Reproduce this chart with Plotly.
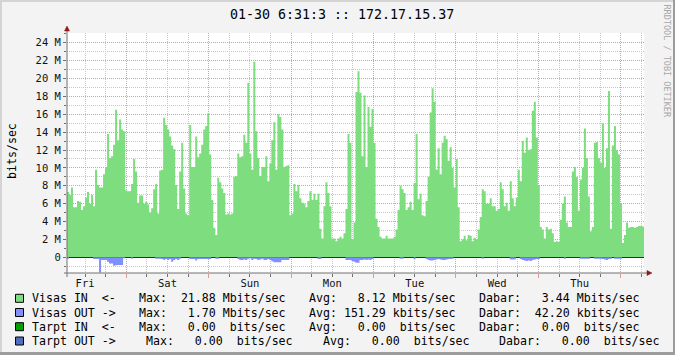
import plotly.graph_objects as go

# ---------------- data (Mbit/s, one value per ~35 min over one week) ----------------
IN_MBPS = [
    7.3, 7.0, 7.8, 5.6, 5.6, 6.3, 6.2, 5.3, 5.7, 6.7,
    7.3, 6.0, 7.0, 5.7, 9.8, 8.1, 7.8, 7.8, 9.3, 10.1,
    13.8, 11.1, 11.3, 12.6, 16.5, 13.1, 15.4, 14.3, 14.1, 7.5,
    7.4, 7.4, 8.2, 11.0, 9.6, 6.1, 6.9, 6.9, 6.0, 6.2,
    5.9, 5.0, 5.5, 7.6, 8.2, 4.9, 9.7, 9.8, 15.6, 14.8,
    14.3, 13.5, 12.5, 12.1, 8.1, 5.4, 9.6, 12.8, 7.7, 4.9,
    4.7, 14.8, 10.1, 10.1, 13.5, 11.2, 11.6, 12.6, 14.3, 14.7,
    16.1, 11.5, 6.4,
    3.3, 2.5, 8.9, 8.4, 7.7, 7.2, 4.8, 4.9, 4.8, 4.9,
    9.0, 9.1, 11.6, 11.2, 11.3, 13.7, 12.8, 19.5, 11.6, 9.8,
    21.88, 14.1, 11.1, 9.1, 10.1, 10.1, 11.3, 8.5, 10.5, 13.1,
    15.1, 9.8, 16.0, 15.7, 14.3, 10.1, 10.2, 10.3, 4.7, 4.9,
    8.2, 7.4, 8.1, 6.6, 6.1, 6.0, 5.6, 6.3, 7.4, 6.4,
    7.1, 6.4, 7.1, 3.2, 2.1, 5.7, 8.4, 7.2, 5.7, 2.1,
    2.1, 1.8, 2.1, 2.3, 2.1, 2.7, 5.4, 13.8, 12.8, 2.0,
    3.9, 18.5, 20.8,
    18.4, 11.3, 18.1, 10.1, 16.8, 14.6, 16.6, 12.8, 4.3, 3.4,
    2.3, 2.1, 2.1, 2.4, 2.1, 2.1, 2.1, 2.3, 3.1, 5.3,
    8.0, 7.6, 7.2, 5.3, 5.6, 6.2, 5.3, 8.3, 13.8, 6.5,
    7.1, 4.7, 4.6, 6.3, 9.0, 16.2, 18.9, 17.4, 9.8, 12.2,
    9.3, 12.8, 13.6, 13.2, 10.8, 12.3, 10.0, 7.8, 11.0, 5.6,
    1.8, 2.0, 2.4, 1.9, 2.5, 2.4, 1.8, 2.2, 2.0, 3.1,
    4.5, 7.6, 7.4, 6.0, 6.0, 6.6, 5.7, 5.7, 5.2, 5.4,
    8.4, 7.6, 5.7,
    6.1, 5.2, 8.5, 6.6, 5.7, 6.7, 9.8, 8.5, 13.0, 11.7,
    13.4, 12.0, 12.1, 16.4, 17.4, 13.4, 8.1, 3.4, 3.1, 2.1,
    3.4, 3.1, 3.2, 2.7, 1.7, 1.8, 1.7, 4.2, 6.0, 6.8,
    3.9, 3.4, 3.4, 9.6, 10.1, 9.0, 5.2, 8.7, 10.0, 14.4,
    11.1, 6.8, 2.9, 3.4, 12.8, 12.9, 11.1, 10.6, 15.0, 10.0,
    12.2, 18.6, 3.2, 12.5, 14.7, 12.0, 11.5, 6.0, 1.6, 2.5,
    3.9, 3.3, 3.4, 3.4, 3.3, 3.4, 3.5, 3.5, 3.44,
]

OUT_MBPS = [
    0.15, 0, 0, 0, 0, 0, 0, 0, 0, 0,
    0, 0, 0, 0.2, 0.2, 0.2, 1.7, 0.3, 0.3, 0.3,
    0.5, 0.7, 0.7, 0.95, 0.9, 0.85, 0.85, 0.85, 0.1, 0,
    0, 0, 0.15, 0, 0, 0, 0, 0, 0, 0,
    0, 0, 0, 0, 0.15, 0.15, 0.15, 0.2, 0.3, 0.2,
    0.3, 0.2, 0.5, 0.3, 0.2, 0.3, 0.15, 0, 0, 0,
    0, 0.2, 0.2, 0.2, 0.35, 0.2, 0.2, 0.2, 0.2, 0.2,
    0.2, 0.2, 0, 0, 0.15, 0.15, 0, 0, 0, 0,
    0, 0, 0, 0, 0, 0.2, 0.3, 0.3, 0.25, 0.3,
    0.15, 0.1, 0.3, 0.15, 0.2, 0.3, 0.25, 0.15, 0.3, 0.3,
    0.2, 0.3, 0.45, 0.55, 0.55, 0.55, 0.55, 0.3, 0.3, 0.3,
    0.3, 0, 0, 0, 0, 0, 0, 0, 0, 0,
    0, 0, 0, 0, 0, 0.2, 0.2, 0, 0, 0,
    0, 0, 0, 0, 0, 0, 0, 0, 0, 0.3,
    0.3, 0.3, 0.4, 0.5, 0.6, 0.6, 0.3, 0.3, 0.25, 0.3,
    0.25, 0.3, 0.2, 0, 0, 0, 0, 0, 0, 0,
    0, 0, 0, 0, 0, 0, 0.15, 0.15, 0, 0,
    0, 0, 0, 0.2, 0, 0, 0, 0, 0, 0.2,
    0.3, 0.35, 0.35, 0.3, 0.25, 0.2, 0.25, 0.3, 0.3, 0.25,
    0.2, 0.2, 0.15, 0, 0, 0, 0, 0, 0, 0,
    0, 0, 0, 0, 0, 0, 0, 0.15, 0, 0,
    0, 0, 0, 0, 0, 0, 0, 0, 0, 0,
    0, 0.25, 0.25, 0.25, 0, 0, 0.2, 0.3, 0.35, 0.4,
    0.35, 0.4, 0.3, 0.25, 0.2, 0.2, 0, 0, 0, 0,
    0, 0, 0, 0, 0, 0, 0, 0, 0.15, 0,
    0, 0, 0, 0, 0, 0, 0.15, 0.15, 0.15, 0.15,
    0.15, 0, 0, 0.15, 0.15, 0.15, 0.15, 0.2, 0.25, 0.3,
    0.2, 0.15, 0, 0.15, 0.15, 0.15, 0.15, 0, 0, 0,
    0, 0, 0, 0, 0, 0, 0, 0,
]

DAY_LABELS = ["Fri", "Sat", "Sun", "Mon", "Tue", "Wed", "Thu"]
Y_TICKS = [0, 2, 4, 6, 8, 10, 12, 14, 16, 18, 20, 22, 24]
Y_TICK_TEXT = ["0"] + [f"{v} M" for v in Y_TICKS[1:]]

TITLE = "01-30 6:31:3 :: 172.17.15.37"
Y_TITLE = "bits/sec"
CREDIT = "RRDTOOL / TOBI OETIKER"

LEGEND_NAMES = ["Visas IN  <-", "Visas OUT ->", "Tarpt IN  <-", "Tarpt OUT ->"]
LEGEND_MAX = ["Max:  21.88 Mbits/sec", "Max:   1.70 Mbits/sec",
              "Max:   0.00  bits/sec", "Max:   0.00  bits/sec"]
LEGEND_AVG = ["Avg:   8.12 Mbits/sec", "Avg: 151.29 kbits/sec",
              "Avg:   0.00  bits/sec", "Avg:   0.00  bits/sec"]
LEGEND_CUR = ["Dabar:   3.44 Mbits/sec", "Dabar:  42.20 kbits/sec",
              "Dabar:   0.00  bits/sec", "Dabar:   0.00  bits/sec"]

# ---------------- style ----------------
C_IN = "rgb(126,221,126)"
C_OUT = "rgb(127,143,255)"
C_TIN = "rgb(0,160,0)"
C_TOUT = "rgb(80,110,190)"
LEGEND_COLORS = [C_IN, C_OUT, C_TIN, C_TOUT]
MONO = "DejaVu Sans Mono"
BG = "#f3f3f3"
RED_GRID = "rgb(232,150,150)"
GRAY_GRID = "rgb(200,200,200)"
AXIS_C = "#707070"
ARROW_C = "#8b1a1a"

W, H = 675, 355
PL, PR, PT, PB = 67, 644, 33, 273


def px(x):
    return (x - PL) / (PR - PL)


def py(y):
    return (PB - y) / (PB - PT)


T0 = 6.74          # hours after Friday 00:00 at left edge
SPAN = 168.0       # one week
n = len(IN_MBPS)
step = SPAN / n
x_edges = [T0 + i * step for i in range(n + 1)]
y_in = IN_MBPS + [IN_MBPS[-1]]
y_out = [-v for v in OUT_MBPS] + [-OUT_MBPS[-1]]

fig = go.Figure()
fig.add_trace(go.Scatter(x=x_edges, y=y_in, mode="lines", line=dict(shape="hv", width=0, color=C_IN),
                         fill="tozeroy", fillcolor=C_IN, hoverinfo="skip", showlegend=False))
fig.add_trace(go.Scatter(x=x_edges, y=y_out, mode="lines", line=dict(shape="hv", width=0, color=C_OUT),
                         fill="tozeroy", fillcolor=C_OUT, hoverinfo="skip", showlegend=False))
# dummy trace on overlay axis for day labels
fig.add_trace(go.Scatter(x=[T0], y=[0], xaxis="x2", mode="markers", marker=dict(opacity=0),
                         hoverinfo="skip", showlegend=False))

days = [24 * i for i in range(8)]
noons = [12 + 24 * i for i in range(7)]

fig.update_layout(
    width=W, height=H,
    margin=dict(l=PL, r=W - PR, t=PT, b=H - PB, pad=0),
    paper_bgcolor=BG, plot_bgcolor="white",
    showlegend=False,
    xaxis=dict(range=[T0, T0 + SPAN], tickmode="array", tickvals=days, showticklabels=False,
               showgrid=True, gridcolor=RED_GRID, griddash="1px,1px", gridwidth=1,
               ticks="outside", ticklen=4, tickcolor=RED_GRID, showline=False, zeroline=False,
               minor=dict(tickmode="linear", tick0=0, dtick=6, showgrid=True, gridcolor=GRAY_GRID,
                          griddash="1px,1px", ticks="outside", ticklen=3, tickcolor=AXIS_C)),
    xaxis2=dict(overlaying="x", matches="x", side="bottom", tickmode="array", tickvals=noons,
                ticktext=DAY_LABELS, showgrid=False, ticks="", showline=False, zeroline=False,
                tickfont=dict(family=MONO, size=10.5, color="#111"), ticklabelstandoff=2),
    yaxis=dict(range=[-(PB - 257.3) / 8.94, (257.3 - PT) / 8.94], tickmode="array",
               tickvals=Y_TICKS, ticktext=Y_TICK_TEXT,
               showgrid=True, gridcolor=RED_GRID, griddash="1px,1px", gridwidth=1,
               ticks="outside", ticklen=3, tickcolor=AXIS_C, showline=False,
               zeroline=True, zerolinecolor="black", zerolinewidth=1,
               tickfont=dict(family=MONO, size=10.5, color="#111"),
               minor=dict(tickmode="linear", tick0=-1, dtick=1, showgrid=True, gridcolor=GRAY_GRID,
                          griddash="1px,1px", ticks="outside", ticklen=2, tickcolor=AXIS_C)),
)

shapes = []
# axis lines
shapes.append(dict(type="line", xref="paper", yref="paper", x0=px(67), x1=px(67), y0=py(277), y1=py(29),
                   line=dict(color=AXIS_C, width=1)))
shapes.append(dict(type="line", xref="paper", yref="paper", x0=px(64), x1=px(648), y0=py(273), y1=py(273),
                   line=dict(color=AXIS_C, width=1)))


def tri(points):
    path = "M " + " L ".join(f"{px(a)} {py(b)}" for a, b in points) + " Z"
    return dict(type="path", xref="paper", yref="paper", path=path,
                fillcolor=ARROW_C, line=dict(color=ARROW_C, width=0.5))


shapes.append(tri([(64.5, 31), (69.5, 31), (67, 26)]))
shapes.append(tri([(647, 270.5), (647, 275.5), (652, 273)]))

# outer frame
shapes.append(dict(type="rect", xref="paper", yref="paper", x0=px(0), x1=px(W), y0=py(0), y1=py(2),
                   fillcolor="#d4d4d4", line=dict(width=0)))
shapes.append(dict(type="rect", xref="paper", yref="paper", x0=px(0), x1=px(2), y0=py(0), y1=py(H),
                   fillcolor="#d4d4d4", line=dict(width=0)))
shapes.append(dict(type="rect", xref="paper", yref="paper", x0=px(0), x1=px(W), y0=py(H - 3), y1=py(H),
                   fillcolor="#9c9c9c", line=dict(width=0)))
shapes.append(dict(type="rect", xref="paper", yref="paper", x0=px(W - 2), x1=px(W), y0=py(0), y1=py(H),
                   fillcolor="#9c9c9c", line=dict(width=0)))

annotations = []
NB = "\u00a0"


def txt(s):
    return s.replace(" ", NB)


row_y = [298.3, 312.5, 326.7, 341.0]
col_x_std = [30.7, 137.7, 307.7, 477.7]
col_x_last = [30.7, 145.0, 321.7, 498.3]
for r in range(4):
    yc = row_y[r]
    shapes.append(dict(type="rect", xref="paper", yref="paper", x0=px(15.5), x1=px(23.5),
                       y0=py(yc - 4), y1=py(yc + 4), fillcolor=LEGEND_COLORS[r],
                       line=dict(color="black", width=1)))
    cols = col_x_last if r == 3 else col_x_std
    for c, s in enumerate([LEGEND_NAMES[r], LEGEND_MAX[r], LEGEND_AVG[r], LEGEND_CUR[r]]):
        annotations.append(dict(text=txt(s), xref="paper", yref="paper", x=px(cols[c] - 1), y=py(yc),
                                xanchor="left", yanchor="middle", showarrow=False,
                                font=dict(family=MONO, size=11.6, color="black")))

annotations.append(dict(text=txt(TITLE), xref="paper", yref="paper", x=px(342), y=py(14),
                        xanchor="center", yanchor="middle", showarrow=False,
                        font=dict(family=MONO, size=13.3, color="black")))
annotations.append(dict(text=Y_TITLE, xref="paper", yref="paper", x=px(12), y=py(151),
                        xanchor="center", yanchor="middle", showarrow=False, textangle=-90,
                        font=dict(family=MONO, size=11.6, color="black")))
annotations.append(dict(text=txt(CREDIT), xref="paper", yref="paper", x=px(666.5), y=py(61),
                        xanchor="center", yanchor="middle", showarrow=False, textangle=90,
                        font=dict(family=MONO, size=8.5, color="#a8a8a8")))

fig.update_layout(shapes=shapes, annotations=annotations)
fig.write_html("out.html")
